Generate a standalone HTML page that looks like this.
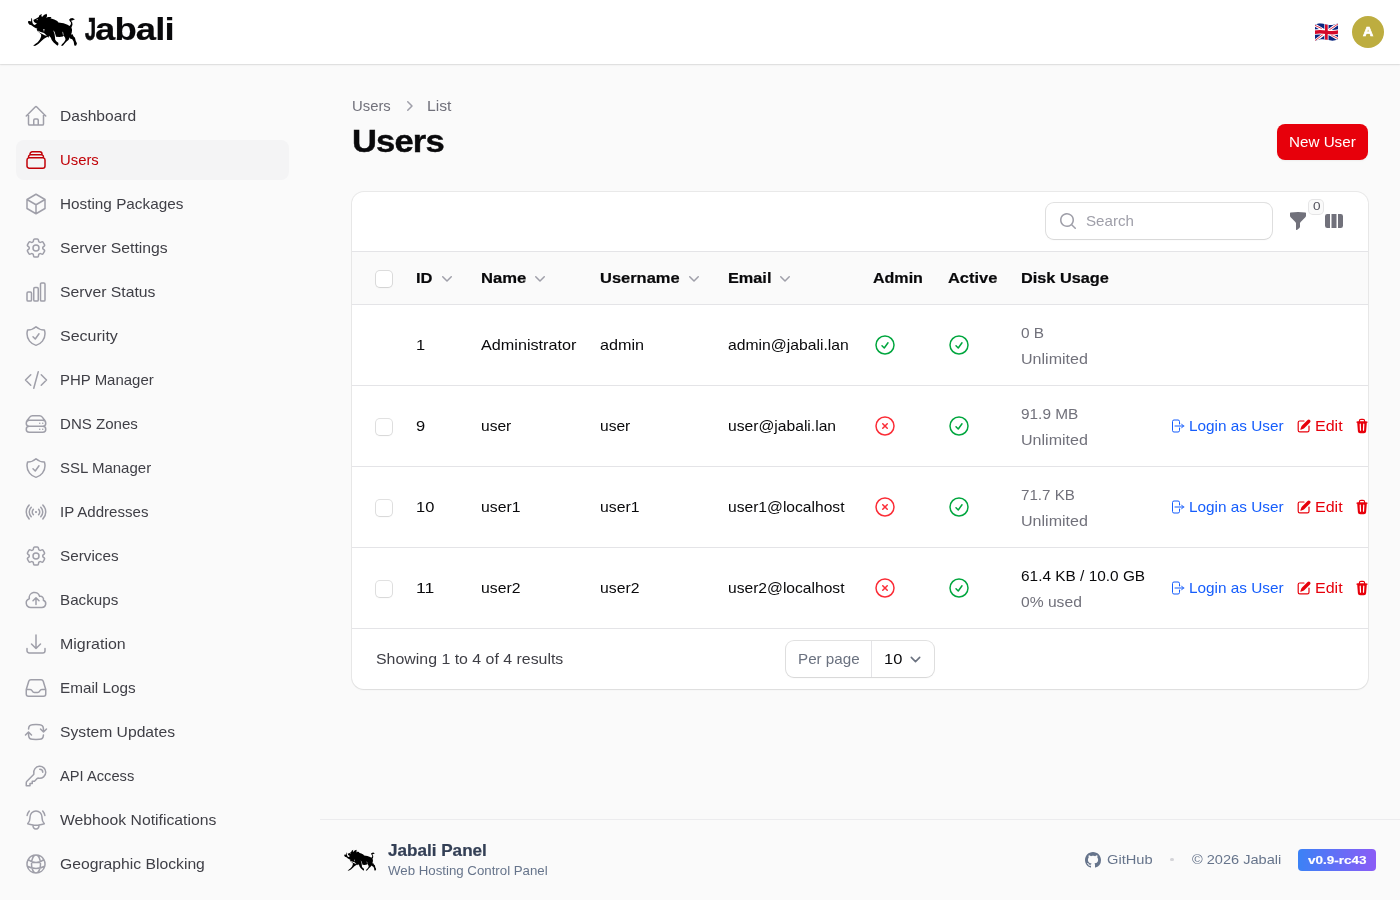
<!DOCTYPE html>
<html lang="en">
<head>
<meta charset="utf-8">
<title>Users - Jabali</title>
<style>
*{box-sizing:border-box;margin:0;padding:0}
html,body{width:1400px;height:900px;overflow:hidden}
body{background:#fafafa;color:#09090b;font-family:"Liberation Sans", sans-serif;font-size:14px;line-height:20px;position:relative}
svg{display:block}
.wrap{position:absolute;left:0;top:0;width:1400px;height:900px;will-change:transform}
.t{white-space:nowrap;display:inline-block;text-align:left}
.i{display:inline-block;white-space:nowrap;transform-origin:0 50%}
/* topbar */
.topbar{position:absolute;left:0;top:0;width:1400px;height:64px;background:#fff;box-shadow:0 0 0 1px rgba(9,9,11,.06),0 1px 2px 0 rgba(0,0,0,.08);z-index:5}
.logo{position:absolute;left:27px;top:13px;width:52px;height:34px}
.brand{white-space:nowrap;position:absolute;left:85px;top:10px;font-size:30px;line-height:40px;font-weight:700;color:#09090b;letter-spacing:-0.75px}
.flag{position:absolute;left:1314px;top:22px;width:25px;height:20px}
.avatar{position:absolute;left:1352px;top:16px;width:32px;height:32px;border-radius:50%;background:#bdad40;color:#fff;font-weight:700;font-size:12.5px;line-height:32px;text-align:center}
/* sidebar */
.nav{position:absolute;left:16px;top:96px;width:273px}
.ni{display:flex;align-items:center;height:40px;margin-bottom:4px;padding:8px;border-radius:8px;color:#3f3f46;font-weight:500}
.ni svg{width:24px;height:24px;margin-right:12px;color:#9f9fa9;flex:none}
.ni.act{background:#f4f4f5;color:#c10007}
.ni.act svg{color:#c10007}
.ni .t{font-weight:400}
/* main */
.bc{position:absolute;left:352px;top:96px;display:flex;align-items:center;color:#71717b;font-size:14px;line-height:20px}
.bc svg{width:20px;height:20px;color:#9f9fa9;margin:0 8px}
h1{position:absolute;left:352px;top:122px;font-size:30px;line-height:40px;font-weight:700;color:#09090b;letter-spacing:-0.75px}
.btn{position:absolute;left:1277px;top:124px;width:91px;height:36px;border-radius:8px;background:#e7000b;color:#fff;font-size:14px;line-height:36px;text-align:center;box-shadow:0 1px 2px rgba(0,0,0,.05)}
.card{position:absolute;left:352px;top:192px;width:1016px;height:497px;background:#fff;border-radius:12px;box-shadow:0 0 0 1px rgba(9,9,11,.07),0 1px 2px 0 rgba(0,0,0,.06);overflow:hidden}
.tb{position:absolute;left:0;top:0;width:100%;height:60px}
.search{position:absolute;left:694px;top:11px;width:226px;height:36px;border-radius:8px;background:#fff;box-shadow:0 0 0 1px rgba(9,9,11,.12),0 1px 2px rgba(0,0,0,.05)}
.search svg{position:absolute;left:12px;top:8px;width:20px;height:20px;color:#9f9fa9}
.search .t{position:absolute;left:40px;top:8px;color:#9f9fa9;font-size:14px}
.ic{position:absolute;width:20px;height:20px;color:#71717b}
.badge{position:absolute;left:956px;top:7px;width:16px;height:16px;border-radius:5px;background:#fafafa;box-shadow:inset 0 0 0 1px rgba(82,82,91,.12);font-size:11px;line-height:16px;text-align:center;color:#52525c;padding:0}
.hd{position:absolute;left:0;top:59px;width:100%;height:54px;background:#fafafa;border-top:1px solid #e4e4e7;border-bottom:1px solid #e4e4e7}
.hd .t{position:absolute;top:16px;font-weight:600;font-size:14px;line-height:20px;color:#09090b}
.hd svg{position:absolute;top:16px;width:20px;height:20px;color:#9f9fa9}
.cb{position:absolute;left:24px;width:16px;height:16px;border-radius:4px;background:#fff;box-shadow:0 0 0 1px rgba(9,9,11,.12),0 1px 2px rgba(0,0,0,.05)}
.row{position:absolute;left:0;width:100%;height:81px;border-bottom:1px solid #e4e4e7}
.row .t{position:absolute;top:30px;font-size:14px;line-height:20px;color:#09090b}
.row .d1{top:18px;color:#09090b}
.row .d2{top:44px;color:#71717b}
.row .g{color:#71717b}
.row .st{position:absolute;top:28px;width:24px;height:24px}
.ok{color:#00a63e}.no{color:#fb2c36}
.row .a{position:absolute;top:32px;width:16px;height:16px}
.row .lnk{color:#155dfc;font-weight:500}
.row .red{color:#e7000b}
.ft{position:absolute;left:0;top:437px;width:100%;height:60px}
.ft .t{position:absolute;left:24px;top:20px;color:#3f3f46;font-size:14px}
.pp{position:absolute;left:434px;top:12px;width:148px;height:36px;border-radius:8px;box-shadow:0 0 0 1px rgba(9,9,11,.12),0 1px 2px rgba(0,0,0,.05);background:#fff}
.pp .l{position:absolute;left:12px;top:8px;color:#6b7280}
.pp .sep{position:absolute;left:85px;top:0;width:1px;height:36px;background:#e4e4e7}
.pp .v{position:absolute;left:98px;top:8px;color:#09090b}
.pp svg{position:absolute;left:119px;top:8px;width:21px;height:21px;color:#6b7280}
/* footer */
.pf{position:absolute;left:320px;top:819px;width:1080px;height:81px;border-top:1px solid #ececee}
.pf .logo2{position:absolute;left:23px;top:28px;width:34px;height:23px}
.pf .t1{white-space:nowrap;position:absolute;left:68px;top:21px;font-weight:700;font-size:15px;line-height:20px;color:#333f55}
.pf .t2{position:absolute;left:68px;top:43px;font-size:12px;line-height:16px;color:#66748b}
.pf .gh{position:absolute;left:765px;top:32px;width:16px;height:16px;color:#66748b}
.pf .g1{position:absolute;left:787px;top:30px;font-size:13px;line-height:20px;color:#66748b}
.pf .dot{position:absolute;left:850.4px;top:37.7px;width:3.2px;height:3.2px;border-radius:50%;background:#d4d4d8}
.pf .g2{position:absolute;left:872px;top:30px;font-size:13px;line-height:20px;color:#66748b}
.pf .ver{position:absolute;left:978px;top:29px;width:78px;height:22px;border-radius:4px;background:linear-gradient(90deg,#3b82f6,#8b5cf6);color:#fff;font-weight:700;font-size:11px;line-height:22px;text-align:center}
</style>
</head>
<body>
<div class="wrap">
<div class="topbar"><svg style="position:absolute;left:20px;top:5px;width:80px;height:50px" viewBox="0 0 1400 875" preserveAspectRatio="none"><path fill="#000" d="M140,285 L168,280 L194,290 L197,232 L208,230 L214,272 L232,262 L285,238 L328,212 L340,180 L382,157 L372,198 L392,206 L418,176 L466,154 L474,186 L462,226 L488,210 L552,212 L532,234 L600,252 L652,280 L672,306 L762,320 L832,345 L868,366 L888,340 L893,312 L870,282 L860,256 L878,238 L915,226 L962,250 L926,266 L894,276 L914,308 L919,345 L900,392 L911,432 L906,482 L892,520 L916,508 L936,546 L962,572 L976,630 L997,670 L986,706 L960,716 L947,690 L940,642 L914,600 L876,586 L868,566 L858,594 L848,612 L810,642 L775,682 L750,711 L718,713 L735,685 L770,650 L796,610 L790,575 L762,532 L750,550 L690,560 L630,556 L622,522 L604,505 L612,560 L616,610 L640,640 L670,660 L673,690 L656,713 L630,690 L585,650 L555,612 L540,572 L508,536 L500,572 L480,556 L420,592 L380,626 L320,682 L270,711 L230,716 L260,686 L310,650 L350,600 L370,550 L370,516 L345,492 L300,452 L286,412 L264,400 L240,386 L200,356 L160,342 L142,312 Z"/><path fill="#fff" d="M212,262 C212,312 230,346 258,351 L297,322 C266,318 242,300 234,262 Z M302,440 L350,468 L420,490 L472,540 L440,532 L380,502 L338,482 Z M284,408 L296,452 L300,408 Z M408,420 L420,476 L428,420 Z M582,442 L600,500 L622,522 L604,470 Z M742,462 L750,520 L762,532 L756,480 Z M290,255 L310,248 L312,262 L294,268 Z"/></svg><div class="brand"><span class="t" style="font-size:30.60px;width:10.42px"><span class="i" style="transform:scaleX(0.6514) translateY(-1.5px);-webkit-text-stroke:0.75px currentColor">J</span></span><span class="t" style="font-size:30.60px;width:78.78px"><span class="i" style="transform:scaleX(1.1937) translateY(-1.5px);-webkit-text-stroke:0.15px currentColor">abali</span></span></div><svg style="position:absolute;left:1306px;top:16px;width:40px;height:32px" viewBox="0 0 1125 900" preserveAspectRatio="none">
<defs><clipPath id="fc"><path d="M250,250 C320,205 420,190 520,225 C620,260 760,275 900,205 L905,650 C800,710 700,700 600,670 C480,640 360,650 255,700 Z"/></clipPath></defs>
<g clip-path="url(#fc)">
<rect x="240" y="180" width="680" height="540" fill="#0a2580"/>
<path d="M250,250 L905,650 M905,205 L255,700" stroke="#fff" stroke-width="82"/>
<path d="M250,262 L440,352 M660,385 L900,225 M255,690 L480,520 M710,540 L905,635" stroke="#d8112f" stroke-width="24"/>
<path d="M575,180 L575,720" stroke="#fff" stroke-width="118"/>
<path d="M240,455 C400,425 520,450 600,460 C720,475 820,470 920,445" stroke="#fff" stroke-width="150" fill="none"/>
<path d="M573,180 L573,720" stroke="#d4082a" stroke-width="76"/>
<path d="M240,455 C400,425 520,450 600,460 C720,475 820,470 920,445" stroke="#d4082a" stroke-width="98" fill="none"/>
</g></svg><div class="avatar"><span class="t" style="font-size:13.12px;width:9.69px"><span class="i" style="transform:scaleX(1.0764);-webkit-text-stroke:0.70px currentColor">A</span></span></div></div>
<div class="nav"><div class="ni"><svg class="" style="" viewBox="0 0 24 24" fill="none" stroke="currentColor" stroke-width="1.5" stroke-linecap="round" stroke-linejoin="round"><path d="m2.25 12 8.954-8.955c.44-.439 1.152-.439 1.591 0L21.75 12M4.5 9.75v10.125c0 .621.504 1.125 1.125 1.125H9.75v-4.875c0-.621.504-1.125 1.125-1.125h2.25c.621 0 1.125.504 1.125 1.125V21h4.125c.621 0 1.125-.504 1.125-1.125V9.75M8.25 21h8.25"/></svg><span class="t" style="font-size:14.77px;width:75.97px"><span class="i" style="transform:scaleX(1.0551)">Dashboard</span></span></div><div class="ni act"><svg class="" style="" viewBox="0 0 24 24" fill="none" stroke="currentColor" stroke-width="1.5" stroke-linecap="round" stroke-linejoin="round"><path d="M6 6.878V6a2.25 2.25 0 0 1 2.25-2.25h7.5A2.25 2.25 0 0 1 18 6v.878m-12 0c.235-.083.487-.128.75-.128h10.5c.263 0 .515.045.75.128m-12 0A2.25 2.25 0 0 0 4.5 9v.878m13.5-3A2.25 2.25 0 0 1 19.5 9v.878m0 0a2.246 2.246 0 0 0-.75-.128H5.25c-.263 0-.515.045-.75.128m15 0A2.25 2.25 0 0 1 21 12v6a2.25 2.25 0 0 1-2.25 2.25H5.25A2.25 2.25 0 0 1 3 18v-6c0-.98.626-1.813 1.5-2.122"/></svg><span class="t" style="font-size:14.77px;width:39.22px"><span class="i" style="transform:scaleX(1.0056)">Users</span></span></div><div class="ni"><svg class="" style="" viewBox="0 0 24 24" fill="none" stroke="currentColor" stroke-width="1.5" stroke-linecap="round" stroke-linejoin="round"><path d="m21 7.5-9-5.25L3 7.5m18 0-9 5.25m9-5.25v9l-9 5.25M3 7.5l9 5.25M3 7.5v9l9 5.25m0-9v9"/></svg><span class="t" style="font-size:14.77px;width:123.31px"><span class="i" style="transform:scaleX(1.0362)">Hosting Packages</span></span></div><div class="ni"><svg class="" style="" viewBox="0 0 24 24" fill="none" stroke="currentColor" stroke-width="1.5" stroke-linecap="round" stroke-linejoin="round"><path d="M9.594 3.94c.09-.542.56-.94 1.11-.94h2.593c.55 0 1.02.398 1.11.94l.213 1.281c.063.374.313.686.645.87.074.04.147.083.22.127.325.196.72.257 1.075.124l1.217-.456a1.125 1.125 0 0 1 1.37.49l1.296 2.247a1.125 1.125 0 0 1-.26 1.431l-1.003.827c-.293.241-.438.613-.43.992a7.723 7.723 0 0 1 0 .255c-.008.378.137.75.43.991l1.004.827c.424.35.534.955.26 1.43l-1.298 2.247a1.125 1.125 0 0 1-1.369.491l-1.217-.456c-.355-.133-.75-.072-1.076.124a6.47 6.47 0 0 1-.22.128c-.331.183-.581.495-.644.869l-.213 1.281c-.09.543-.56.94-1.11.94h-2.594c-.55 0-1.019-.398-1.11-.94l-.213-1.281c-.062-.374-.312-.686-.644-.87a6.52 6.52 0 0 1-.22-.127c-.325-.196-.72-.257-1.076-.124l-1.217.456a1.125 1.125 0 0 1-1.369-.49l-1.297-2.247a1.125 1.125 0 0 1 .26-1.431l1.004-.827c.292-.24.437-.613.43-.991a6.932 6.932 0 0 1 0-.255c.007-.38-.138-.751-.43-.992l-1.004-.827a1.125 1.125 0 0 1-.26-1.43l1.297-2.247a1.125 1.125 0 0 1 1.37-.491l1.216.456c.356.133.751.072 1.076-.124.072-.044.146-.086.22-.128.332-.183.582-.495.644-.869l.214-1.28ZM15 12a3 3 0 1 1-6 0 3 3 0 0 1 6 0Z"/></svg><span class="t" style="font-size:14.77px;width:107.80px"><span class="i" style="transform:scaleX(1.0673)">Server Settings</span></span></div><div class="ni"><svg class="" style="" viewBox="0 0 24 24" fill="none" stroke="currentColor" stroke-width="1.5" stroke-linecap="round" stroke-linejoin="round"><path d="M3 13.125C3 12.504 3.504 12 4.125 12h2.25c.621 0 1.125.504 1.125 1.125v6.75C7.5 20.496 6.996 21 6.375 21h-2.25A1.125 1.125 0 0 1 3 19.875v-6.75ZM9.75 8.625c0-.621.504-1.125 1.125-1.125h2.25c.621 0 1.125.504 1.125 1.125v11.25c0 .621-.504 1.125-1.125 1.125h-2.25a1.125 1.125 0 0 1-1.125-1.125V8.625ZM16.5 4.125c0-.621.504-1.125 1.125-1.125h2.25C20.496 3 21 3.504 21 4.125v15.75c0 .621-.504 1.125-1.125 1.125h-2.25a1.125 1.125 0 0 1-1.125-1.125V4.125Z"/></svg><span class="t" style="font-size:14.77px;width:94.98px"><span class="i" style="transform:scaleX(1.0672)">Server Status</span></span></div><div class="ni"><svg class="" style="" viewBox="0 0 24 24" fill="none" stroke="currentColor" stroke-width="1.5" stroke-linecap="round" stroke-linejoin="round"><path d="M9 12.75 11.25 15 15 9.75m-3-7.036A11.959 11.959 0 0 1 3.598 6 11.99 11.99 0 0 0 3 9.749c0 5.592 3.824 10.29 9 11.623 5.176-1.332 9-6.03 9-11.622 0-1.31-.21-2.571-.598-3.751h-.152c-3.196 0-6.1-1.248-8.25-3.285Z"/></svg><span class="t" style="font-size:14.77px;width:57.50px"><span class="i" style="transform:scaleX(1.0849)">Security</span></span></div><div class="ni"><svg class="" style="" viewBox="0 0 24 24" fill="none" stroke="currentColor" stroke-width="1.5" stroke-linecap="round" stroke-linejoin="round"><path d="M17.25 6.75 22.5 12l-5.25 5.25m-10.5 0L1.5 12l5.25-5.25m7.5-3-4.5 16.5"/></svg><span class="t" style="font-size:14.77px;width:93.23px"><span class="i" style="transform:scaleX(1.0134)">PHP Manager</span></span></div><div class="ni"><svg class="" style="" viewBox="0 0 24 24" fill="none" stroke="currentColor" stroke-width="1.5" stroke-linecap="round" stroke-linejoin="round"><path d="M5.25 14.25h13.5m-13.5 0a3 3 0 0 1-3-3m3 3a3 3 0 1 0 0 6h13.5a3 3 0 1 0 0-6m-16.5-3a3 3 0 0 1 3-3h13.5a3 3 0 0 1 3 3m-19.5 0a4.5 4.5 0 0 1 .9-2.7L5.737 5.1a3.375 3.375 0 0 1 2.7-1.35h7.126c1.062 0 2.062.5 2.7 1.35l2.587 3.45a4.5 4.5 0 0 1 .9 2.7m0 0a3 3 0 0 1-3 3m0 3h.008v.008h-.008v-.008Zm0-6h.008v.008h-.008v-.008Zm-3 6h.008v.008h-.008v-.008Zm0-6h.008v.008h-.008v-.008Z"/></svg><span class="t" style="font-size:14.77px;width:77.53px"><span class="i" style="transform:scaleX(1.0201)">DNS Zones</span></span></div><div class="ni"><svg class="" style="" viewBox="0 0 24 24" fill="none" stroke="currentColor" stroke-width="1.5" stroke-linecap="round" stroke-linejoin="round"><path d="M9 12.75 11.25 15 15 9.75m-3-7.036A11.959 11.959 0 0 1 3.598 6 11.99 11.99 0 0 0 3 9.749c0 5.592 3.824 10.29 9 11.623 5.176-1.332 9-6.03 9-11.622 0-1.31-.21-2.571-.598-3.751h-.152c-3.196 0-6.1-1.248-8.25-3.285Z"/></svg><span class="t" style="font-size:14.77px;width:91.39px"><span class="i" style="transform:scaleX(1.0155)">SSL Manager</span></span></div><div class="ni"><svg class="" style="" viewBox="0 0 24 24" fill="none" stroke="currentColor" stroke-width="1.5" stroke-linecap="round" stroke-linejoin="round"><path d="M9.348 14.652a3.75 3.75 0 0 1 0-5.304m5.304 0a3.75 3.75 0 0 1 0 5.304m-7.425 2.121a6.75 6.75 0 0 1 0-9.546m9.546 0a6.75 6.75 0 0 1 0 9.546M5.106 18.894c-3.808-3.807-3.808-9.98 0-13.788m13.788 0c3.808 3.807 3.808 9.98 0 13.788M12 12h.008v.008H12V12Zm.375 0a.375.375 0 1 1-.75 0 .375.375 0 0 1 .75 0Z"/></svg><span class="t" style="font-size:14.77px;width:88.69px"><span class="i" style="transform:scaleX(1.0194)">IP Addresses</span></span></div><div class="ni"><svg class="" style="" viewBox="0 0 24 24" fill="none" stroke="currentColor" stroke-width="1.5" stroke-linecap="round" stroke-linejoin="round"><path d="M9.594 3.94c.09-.542.56-.94 1.11-.94h2.593c.55 0 1.02.398 1.11.94l.213 1.281c.063.374.313.686.645.87.074.04.147.083.22.127.325.196.72.257 1.075.124l1.217-.456a1.125 1.125 0 0 1 1.37.49l1.296 2.247a1.125 1.125 0 0 1-.26 1.431l-1.003.827c-.293.241-.438.613-.43.992a7.723 7.723 0 0 1 0 .255c-.008.378.137.75.43.991l1.004.827c.424.35.534.955.26 1.43l-1.298 2.247a1.125 1.125 0 0 1-1.369.491l-1.217-.456c-.355-.133-.75-.072-1.076.124a6.47 6.47 0 0 1-.22.128c-.331.183-.581.495-.644.869l-.213 1.281c-.09.543-.56.94-1.11.94h-2.594c-.55 0-1.019-.398-1.11-.94l-.213-1.281c-.062-.374-.312-.686-.644-.87a6.52 6.52 0 0 1-.22-.127c-.325-.196-.72-.257-1.076-.124l-1.217.456a1.125 1.125 0 0 1-1.369-.49l-1.297-2.247a1.125 1.125 0 0 1 .26-1.431l1.004-.827c.292-.24.437-.613.43-.991a6.932 6.932 0 0 1 0-.255c.007-.38-.138-.751-.43-.992l-1.004-.827a1.125 1.125 0 0 1-.26-1.43l1.297-2.247a1.125 1.125 0 0 1 1.37-.491l1.216.456c.356.133.751.072 1.076-.124.072-.044.146-.086.22-.128.332-.183.582-.495.644-.869l.214-1.28ZM15 12a3 3 0 1 1-6 0 3 3 0 0 1 6 0Z"/></svg><span class="t" style="font-size:14.77px;width:59.05px"><span class="i" style="transform:scaleX(1.0359)">Services</span></span></div><div class="ni"><svg class="" style="" viewBox="0 0 24 24" fill="none" stroke="currentColor" stroke-width="1.5" stroke-linecap="round" stroke-linejoin="round"><path d="M12 16.5V9.75m0 0 3 3m-3-3-3 3M6.75 19.5a4.5 4.5 0 0 1-1.41-8.775 5.25 5.25 0 0 1 10.233-2.33 3 3 0 0 1 3.758 3.848A3.752 3.752 0 0 1 18 19.5H6.75Z"/></svg><span class="t" style="font-size:14.77px;width:58.62px"><span class="i" style="transform:scaleX(1.0285)">Backups</span></span></div><div class="ni"><svg class="" style="" viewBox="0 0 24 24" fill="none" stroke="currentColor" stroke-width="1.5" stroke-linecap="round" stroke-linejoin="round"><path d="M3 16.5v2.25A2.25 2.25 0 0 0 5.25 21h13.5A2.25 2.25 0 0 0 21 18.75V16.5M16.5 12 12 16.5m0 0L7.5 12m4.5 4.5V3"/></svg><span class="t" style="font-size:14.77px;width:66.02px"><span class="i" style="transform:scaleX(1.0822)">Migration</span></span></div><div class="ni"><svg class="" style="" viewBox="0 0 24 24" fill="none" stroke="currentColor" stroke-width="1.5" stroke-linecap="round" stroke-linejoin="round"><path d="M2.25 13.5h3.86a2.25 2.25 0 0 1 2.012 1.244l.256.512a2.25 2.25 0 0 0 2.013 1.244h3.218a2.25 2.25 0 0 0 2.013-1.244l.256-.512a2.25 2.25 0 0 1 2.013-1.244h3.859m-19.5.338V18a2.25 2.25 0 0 0 2.25 2.25h15A2.25 2.25 0 0 0 21.75 18v-4.162c0-.224-.034-.447-.1-.661L19.24 5.338a2.25 2.25 0 0 0-2.15-1.588H6.911a2.25 2.25 0 0 0-2.15 1.588L2.35 13.177a2.25 2.25 0 0 0-.1.661Z"/></svg><span class="t" style="font-size:14.77px;width:75.59px"><span class="i" style="transform:scaleX(1.0355)">Email Logs</span></span></div><div class="ni"><svg class="" style="" viewBox="0 0 24 24" fill="none" stroke="currentColor" stroke-width="1.5" stroke-linecap="round" stroke-linejoin="round"><path d="M19.5 12c0-1.232-.046-2.453-.138-3.662a4.006 4.006 0 0 0-3.7-3.7 48.678 48.678 0 0 0-7.324 0 4.006 4.006 0 0 0-3.7 3.7c-.017.22-.032.441-.046.662M19.5 12l3-3m-3 3-3-3m-12 3c0 1.232.046 2.453.138 3.662a4.006 4.006 0 0 0 3.7 3.7 48.656 48.656 0 0 0 7.324 0 4.006 4.006 0 0 0 3.7-3.7c.017-.22.032-.441.046-.662M4.5 12l3 3m-3-3-3 3"/></svg><span class="t" style="font-size:14.77px;width:114.66px"><span class="i" style="transform:scaleX(1.0616)">System Updates</span></span></div><div class="ni"><svg class="" style="" viewBox="0 0 24 24" fill="none" stroke="currentColor" stroke-width="1.5" stroke-linecap="round" stroke-linejoin="round"><path d="M15.75 5.25a3 3 0 0 1 3 3m3 0a6 6 0 0 1-7.029 5.912c-.563-.097-1.159.026-1.563.43L10.5 17.25H8.25v2.25H6v2.25H2.25v-2.818c0-.597.237-1.17.659-1.591l6.499-6.499c.404-.404.527-1 .43-1.563A6 6 0 1 1 21.75 8.25Z"/></svg><span class="t" style="font-size:14.77px;width:74.53px"><span class="i" style="transform:scaleX(0.9938)">API Access</span></span></div><div class="ni"><svg class="" style="" viewBox="0 0 24 24" fill="none" stroke="currentColor" stroke-width="1.5" stroke-linecap="round" stroke-linejoin="round"><path d="M14.857 17.082a23.848 23.848 0 0 0 5.454-1.31A8.967 8.967 0 0 1 18 9.75V9A6 6 0 0 0 6 9v.75a8.967 8.967 0 0 1-2.312 6.022c1.733.64 3.56 1.085 5.455 1.31m5.714 0a24.255 24.255 0 0 1-5.714 0m5.714 0a3 3 0 1 1-5.714 0M3.124 7.5A8.969 8.969 0 0 1 5.292 3m13.416 0a8.969 8.969 0 0 1 2.168 4.5"/></svg><span class="t" style="font-size:14.77px;width:156.72px"><span class="i" style="transform:scaleX(1.0661)">Webhook Notifications</span></span></div><div class="ni"><svg class="" style="" viewBox="0 0 24 24" fill="none" stroke="currentColor" stroke-width="1.5" stroke-linecap="round" stroke-linejoin="round"><path d="M12 21a9.004 9.004 0 0 0 8.716-6.747M12 21a9.004 9.004 0 0 1-8.716-6.747M12 21c2.485 0 4.5-4.03 4.5-9S14.485 3 12 3m0 18c-2.485 0-4.5-4.03-4.5-9S9.515 3 12 3m0 0a8.997 8.997 0 0 1 7.843 4.582M12 3a8.997 8.997 0 0 0-7.843 4.582m15.686 0A11.953 11.953 0 0 1 12 10.5c-2.998 0-5.74-1.1-7.843-2.918m15.686 0A8.959 8.959 0 0 1 21 12c0 .778-.099 1.533-.284 2.253m0 0A17.919 17.919 0 0 1 12 16.5c-3.162 0-6.133-.815-8.716-2.247m0 0A9.015 9.015 0 0 1 3 12c0-1.605.42-3.113 1.157-4.418"/></svg><span class="t" style="font-size:14.77px;width:144.56px"><span class="i" style="transform:scaleX(1.0630)">Geographic Blocking</span></span></div></div>
<div class="bc"><span class="t" style="font-size:14.77px;width:39.22px"><span class="i" style="transform:scaleX(1.0056)">Users</span></span><svg class="" style="" viewBox="0 0 20 20" fill="currentColor"><path fill-rule="evenodd" clip-rule="evenodd" d="M8.22 5.22a.75.75 0 0 1 1.06 0l4.25 4.25a.75.75 0 0 1 0 1.06l-4.25 4.25a.75.75 0 0 1-1.06-1.06L11.94 10 8.22 6.28a.75.75 0 0 1 0-1.06Z"/></svg><span class="t" style="font-size:14.77px;width:24.48px"><span class="i" style="transform:scaleX(1.0645)">List</span></span></div><h1><span class="t" style="font-size:30.60px;width:91.47px"><span class="i" style="transform:scaleX(1.1292) translateY(-1.5px);-webkit-text-stroke:0.42px currentColor">Users</span></span></h1><div class="btn"><span class="t" style="font-size:14.77px;width:66.91px"><span class="i" style="transform:scaleX(1.0293)">New User</span></span></div><div class="card"><div class="tb"><div class="search"><svg class="" style="" viewBox="0 0 20 20" fill="currentColor"><path fill-rule="evenodd" clip-rule="evenodd" d="M9 3.5a5.5 5.5 0 1 0 0 11 5.5 5.5 0 0 0 0-11ZM2 9a7 7 0 1 1 12.452 4.391l3.328 3.329a.75.75 0 1 1-1.06 1.06l-3.329-3.328A7 7 0 0 1 2 9Z"/></svg><span class="t" style="font-size:14.77px;width:48.11px"><span class="i" style="transform:scaleX(1.0236)">Search</span></span></div><svg class="ic" style="left:936px;top:19px" viewBox="0 0 20 20" fill="currentColor"><path fill-rule="evenodd" clip-rule="evenodd" d="M2.628 1.601C5.028 1.206 7.49 1 10 1s4.973.206 7.372.601a.75.75 0 0 1 .628.74v2.288a2.25 2.25 0 0 1-.659 1.59l-4.682 4.683a2.25 2.25 0 0 0-.659 1.59v3.037c0 .684-.31 1.33-.844 1.757l-1.937 1.55A.75.75 0 0 1 8 18.25v-5.757a2.25 2.25 0 0 0-.659-1.591L2.659 6.22A2.25 2.25 0 0 1 2 4.629V2.34a.75.75 0 0 1 .628-.74Z"/></svg><div class="badge"><span class="t" style="font-size:11.60px;width:7.00px"><span class="i" style="transform:scaleX(1.1667) translateY(-1px)">0</span></span></div><svg class="ic" style="left:972px;top:19px" viewBox="0 0 20 20" fill="currentColor"><path fill-rule="evenodd" clip-rule="evenodd" d="M14 17h2.75A2.25 2.25 0 0 0 19 14.75v-9.5A2.25 2.25 0 0 0 16.75 3H14v14ZM12.5 3h-5v14h5V3ZM3.25 3H6v14H3.25A2.25 2.25 0 0 1 1 14.75v-9.5A2.25 2.25 0 0 1 3.25 3Z"/></svg></div><div class="hd"><div class="cb" style="top:19px"></div><span class="t" style="left:64px;font-size:14.70px;width:16.84px"><span class="i" style="transform:scaleX(1.1229);-webkit-text-stroke:0.20px currentColor">ID</span></span><svg class="" style="left:85px" viewBox="0 0 20 20" fill="currentColor"><path fill-rule="evenodd" clip-rule="evenodd" d="M5.22 8.22a.75.75 0 0 1 1.06 0L10 11.94l3.72-3.72a.75.75 0 1 1 1.06 1.06l-4.25 4.25a.75.75 0 0 1-1.06 0L5.22 9.28a.75.75 0 0 1 0-1.06Z"/></svg><span class="t" style="left:129px;font-size:14.70px;width:45.25px"><span class="i" style="transform:scaleX(1.1313);-webkit-text-stroke:0.20px currentColor">Name</span></span><svg class="" style="left:178px" viewBox="0 0 20 20" fill="currentColor"><path fill-rule="evenodd" clip-rule="evenodd" d="M5.22 8.22a.75.75 0 0 1 1.06 0L10 11.94l3.72-3.72a.75.75 0 1 1 1.06 1.06l-4.25 4.25a.75.75 0 0 1-1.06 0L5.22 9.28a.75.75 0 0 1 0-1.06Z"/></svg><span class="t" style="left:248px;font-size:14.70px;width:79.61px"><span class="i" style="transform:scaleX(1.1213);-webkit-text-stroke:0.20px currentColor">Username</span></span><svg class="" style="left:332px" viewBox="0 0 20 20" fill="currentColor"><path fill-rule="evenodd" clip-rule="evenodd" d="M5.22 8.22a.75.75 0 0 1 1.06 0L10 11.94l3.72-3.72a.75.75 0 1 1 1.06 1.06l-4.25 4.25a.75.75 0 0 1-1.06 0L5.22 9.28a.75.75 0 0 1 0-1.06Z"/></svg><span class="t" style="left:376px;font-size:14.70px;width:43.20px"><span class="i" style="transform:scaleX(1.1078);-webkit-text-stroke:0.20px currentColor">Email</span></span><svg class="" style="left:423px" viewBox="0 0 20 20" fill="currentColor"><path fill-rule="evenodd" clip-rule="evenodd" d="M5.22 8.22a.75.75 0 0 1 1.06 0L10 11.94l3.72-3.72a.75.75 0 1 1 1.06 1.06l-4.25 4.25a.75.75 0 0 1-1.06 0L5.22 9.28a.75.75 0 0 1 0-1.06Z"/></svg><span class="t" style="left:521px;font-size:14.70px;width:50.22px"><span class="i" style="transform:scaleX(1.0917);-webkit-text-stroke:0.20px currentColor">Admin</span></span><span class="t" style="left:596px;font-size:14.70px;width:49.25px"><span class="i" style="transform:scaleX(1.1193);-webkit-text-stroke:0.20px currentColor">Active</span></span><span class="t" style="left:669px;font-size:14.70px;width:87.61px"><span class="i" style="transform:scaleX(1.1090);-webkit-text-stroke:0.20px currentColor">Disk Usage</span></span></div><div class="row" style="top:113px"><span class="t" style="left:64px;font-size:14.77px;width:8.92px"><span class="i" style="transform:scaleX(1.1152)">1</span></span><span class="t" style="left:129px;font-size:14.77px;width:95.44px"><span class="i" style="transform:scaleX(1.0970)">Administrator</span></span><span class="t" style="left:248px;font-size:14.77px;width:43.88px"><span class="i" style="transform:scaleX(1.0969)">admin</span></span><span class="t" style="left:376px;font-size:14.77px;width:121.38px"><span class="i" style="transform:scaleX(1.0647)">admin@jabali.lan</span></span><svg class="st ok" style="left:521px" viewBox="0 0 24 24" fill="none" stroke="currentColor" stroke-width="1.5" stroke-linecap="round" stroke-linejoin="round"><path d="M9 12.75 11.25 15 15 9.75M21 12a9 9 0 1 1-18 0 9 9 0 0 1 18 0Z"/></svg><svg class="st ok" style="left:595px" viewBox="0 0 24 24" fill="none" stroke="currentColor" stroke-width="1.5" stroke-linecap="round" stroke-linejoin="round"><path d="M9 12.75 11.25 15 15 9.75M21 12a9 9 0 1 1-18 0 9 9 0 0 1 18 0Z"/></svg><span class="t d1 g" style="left:669px;font-size:14.77px;width:22.97px"><span class="i" style="transform:scaleX(1.0440)">0 B</span></span><span class="t d2" style="left:669px;font-size:14.77px;width:67.42px"><span class="i" style="transform:scaleX(1.0874)">Unlimited</span></span></div><div class="row" style="top:194px"><div class="cb" style="top:33px"></div><span class="t" style="left:64px;font-size:14.77px;width:8.92px"><span class="i" style="transform:scaleX(1.1152)">9</span></span><span class="t" style="left:129px;font-size:14.77px;width:30.55px"><span class="i" style="transform:scaleX(1.0533)">user</span></span><span class="t" style="left:248px;font-size:14.77px;width:30.55px"><span class="i" style="transform:scaleX(1.0533)">user</span></span><span class="t" style="left:376px;font-size:14.77px;width:108.05px"><span class="i" style="transform:scaleX(1.0593)">user@jabali.lan</span></span><svg class="st no" style="left:521px" viewBox="0 0 24 24" fill="none" stroke="currentColor" stroke-width="1.5" stroke-linecap="round" stroke-linejoin="round"><path d="m9.75 9.75 4.5 4.5m0-4.5-4.5 4.5M21 12a9 9 0 1 1-18 0 9 9 0 0 1 18 0Z"/></svg><svg class="st ok" style="left:595px" viewBox="0 0 24 24" fill="none" stroke="currentColor" stroke-width="1.5" stroke-linecap="round" stroke-linejoin="round"><path d="M9 12.75 11.25 15 15 9.75M21 12a9 9 0 1 1-18 0 9 9 0 0 1 18 0Z"/></svg><span class="t d1 g" style="left:669px;font-size:14.77px;width:57.31px"><span class="i" style="transform:scaleX(1.0420)">91.9 MB</span></span><span class="t d2" style="left:669px;font-size:14.77px;width:67.42px"><span class="i" style="transform:scaleX(1.0874)">Unlimited</span></span><svg class="a lnk" style="left:817px" viewBox="0 0 24 24" fill="none" stroke="currentColor" stroke-width="1.5" stroke-linecap="round" stroke-linejoin="round"><path d="M15.75 9V5.25A2.25 2.25 0 0 0 13.5 3h-6a2.25 2.25 0 0 0-2.25 2.25v13.5A2.25 2.25 0 0 0 7.5 21h6a2.25 2.25 0 0 0 2.25-2.25V15m3 0 3-3m0 0-3-3m3 3H9"/></svg><span class="t lnk" style="left:837px;font-size:14.77px;width:94.45px"><span class="i" style="transform:scaleX(1.0379)">Login as User</span></span><svg class="a red" style="left:943.7px" viewBox="0 0 20 20" fill="currentColor"><path fill-rule="evenodd" clip-rule="evenodd" d="m5.433 13.917 1.262-3.155A4 4 0 0 1 7.58 9.42l6.92-6.918a2.121 2.121 0 0 1 3 3l-6.92 6.918c-.383.383-.84.685-1.343.886l-3.154 1.262a.5.5 0 0 1-.65-.65ZM3.5 5.75c0-.69.56-1.25 1.25-1.25H10A.75.75 0 0 0 10 3H4.75A2.75 2.75 0 0 0 2 5.75v9.5A2.75 2.75 0 0 0 4.75 18h9.5A2.75 2.75 0 0 0 17 15.25V10a.75.75 0 0 0-1.5 0v5.25c0 .69-.56 1.25-1.25 1.25h-9.5c-.69 0-1.25-.56-1.25-1.25v-9.5Z"/></svg><span class="t red" style="left:963px;font-size:14.77px;width:27.12px"><span class="i" style="transform:scaleX(1.0850)">Edit</span></span><svg class="a red" style="left:1002px" viewBox="0 0 20 20" fill="currentColor"><path fill-rule="evenodd" clip-rule="evenodd" d="M8.75 1A2.75 2.75 0 0 0 6 3.75v.443c-.795.077-1.584.176-2.365.298a.75.75 0 1 0 .23 1.482l.149-.022.841 10.518A2.75 2.75 0 0 0 7.596 19h4.807a2.75 2.75 0 0 0 2.742-2.53l.841-10.52.149.023a.75.75 0 0 0 .23-1.482A41.03 41.03 0 0 0 14 4.193V3.75A2.75 2.75 0 0 0 11.25 1h-2.5ZM10 4c.84 0 1.673.025 2.5.075V3.75c0-.69-.56-1.25-1.25-1.25h-2.5c-.69 0-1.25.56-1.25 1.25v.325C8.327 4.025 9.16 4 10 4ZM8.58 7.72a.75.75 0 0 0-1.5.06l.3 7.5a.75.75 0 1 0 1.5-.06l-.3-7.5Zm4.34.06a.75.75 0 1 0-1.5-.06l-.3 7.5a.75.75 0 1 0 1.5.06l.3-7.5Z"/></svg></div><div class="row" style="top:275px"><div class="cb" style="top:33px"></div><span class="t" style="left:64px;font-size:14.77px;width:17.83px"><span class="i" style="transform:scaleX(1.1143)">10</span></span><span class="t" style="left:129px;font-size:14.77px;width:39.45px"><span class="i" style="transform:scaleX(1.0663)">user1</span></span><span class="t" style="left:248px;font-size:14.77px;width:39.45px"><span class="i" style="transform:scaleX(1.0663)">user1</span></span><span class="t" style="left:376px;font-size:14.77px;width:116.30px"><span class="i" style="transform:scaleX(1.0572)">user1@localhost</span></span><svg class="st no" style="left:521px" viewBox="0 0 24 24" fill="none" stroke="currentColor" stroke-width="1.5" stroke-linecap="round" stroke-linejoin="round"><path d="m9.75 9.75 4.5 4.5m0-4.5-4.5 4.5M21 12a9 9 0 1 1-18 0 9 9 0 0 1 18 0Z"/></svg><svg class="st ok" style="left:595px" viewBox="0 0 24 24" fill="none" stroke="currentColor" stroke-width="1.5" stroke-linecap="round" stroke-linejoin="round"><path d="M9 12.75 11.25 15 15 9.75M21 12a9 9 0 1 1-18 0 9 9 0 0 1 18 0Z"/></svg><span class="t d1 g" style="left:669px;font-size:14.77px;width:54.42px"><span class="i" style="transform:scaleX(1.0268)">71.7 KB</span></span><span class="t d2" style="left:669px;font-size:14.77px;width:67.42px"><span class="i" style="transform:scaleX(1.0874)">Unlimited</span></span><svg class="a lnk" style="left:817px" viewBox="0 0 24 24" fill="none" stroke="currentColor" stroke-width="1.5" stroke-linecap="round" stroke-linejoin="round"><path d="M15.75 9V5.25A2.25 2.25 0 0 0 13.5 3h-6a2.25 2.25 0 0 0-2.25 2.25v13.5A2.25 2.25 0 0 0 7.5 21h6a2.25 2.25 0 0 0 2.25-2.25V15m3 0 3-3m0 0-3-3m3 3H9"/></svg><span class="t lnk" style="left:837px;font-size:14.77px;width:94.45px"><span class="i" style="transform:scaleX(1.0379)">Login as User</span></span><svg class="a red" style="left:943.7px" viewBox="0 0 20 20" fill="currentColor"><path fill-rule="evenodd" clip-rule="evenodd" d="m5.433 13.917 1.262-3.155A4 4 0 0 1 7.58 9.42l6.92-6.918a2.121 2.121 0 0 1 3 3l-6.92 6.918c-.383.383-.84.685-1.343.886l-3.154 1.262a.5.5 0 0 1-.65-.65ZM3.5 5.75c0-.69.56-1.25 1.25-1.25H10A.75.75 0 0 0 10 3H4.75A2.75 2.75 0 0 0 2 5.75v9.5A2.75 2.75 0 0 0 4.75 18h9.5A2.75 2.75 0 0 0 17 15.25V10a.75.75 0 0 0-1.5 0v5.25c0 .69-.56 1.25-1.25 1.25h-9.5c-.69 0-1.25-.56-1.25-1.25v-9.5Z"/></svg><span class="t red" style="left:963px;font-size:14.77px;width:27.12px"><span class="i" style="transform:scaleX(1.0850)">Edit</span></span><svg class="a red" style="left:1002px" viewBox="0 0 20 20" fill="currentColor"><path fill-rule="evenodd" clip-rule="evenodd" d="M8.75 1A2.75 2.75 0 0 0 6 3.75v.443c-.795.077-1.584.176-2.365.298a.75.75 0 1 0 .23 1.482l.149-.022.841 10.518A2.75 2.75 0 0 0 7.596 19h4.807a2.75 2.75 0 0 0 2.742-2.53l.841-10.52.149.023a.75.75 0 0 0 .23-1.482A41.03 41.03 0 0 0 14 4.193V3.75A2.75 2.75 0 0 0 11.25 1h-2.5ZM10 4c.84 0 1.673.025 2.5.075V3.75c0-.69-.56-1.25-1.25-1.25h-2.5c-.69 0-1.25.56-1.25 1.25v.325C8.327 4.025 9.16 4 10 4ZM8.58 7.72a.75.75 0 0 0-1.5.06l.3 7.5a.75.75 0 1 0 1.5-.06l-.3-7.5Zm4.34.06a.75.75 0 1 0-1.5-.06l-.3 7.5a.75.75 0 1 0 1.5.06l.3-7.5Z"/></svg></div><div class="row" style="top:356px"><div class="cb" style="top:33px"></div><span class="t" style="left:64px;font-size:14.77px;width:17.83px"><span class="i" style="transform:scaleX(1.1885)">11</span></span><span class="t" style="left:129px;font-size:14.77px;width:39.45px"><span class="i" style="transform:scaleX(1.0663)">user2</span></span><span class="t" style="left:248px;font-size:14.77px;width:39.45px"><span class="i" style="transform:scaleX(1.0663)">user2</span></span><span class="t" style="left:376px;font-size:14.77px;width:116.30px"><span class="i" style="transform:scaleX(1.0572)">user2@localhost</span></span><svg class="st no" style="left:521px" viewBox="0 0 24 24" fill="none" stroke="currentColor" stroke-width="1.5" stroke-linecap="round" stroke-linejoin="round"><path d="m9.75 9.75 4.5 4.5m0-4.5-4.5 4.5M21 12a9 9 0 1 1-18 0 9 9 0 0 1 18 0Z"/></svg><svg class="st ok" style="left:595px" viewBox="0 0 24 24" fill="none" stroke="currentColor" stroke-width="1.5" stroke-linecap="round" stroke-linejoin="round"><path d="M9 12.75 11.25 15 15 9.75M21 12a9 9 0 1 1-18 0 9 9 0 0 1 18 0Z"/></svg><span class="t d1" style="left:669px;font-size:14.77px;width:124.11px"><span class="i" style="transform:scaleX(1.0429)">61.4 KB / 10.0 GB</span></span><span class="t d2" style="left:669px;font-size:14.77px;width:60.33px"><span class="i" style="transform:scaleX(1.0584)">0% used</span></span><svg class="a lnk" style="left:817px" viewBox="0 0 24 24" fill="none" stroke="currentColor" stroke-width="1.5" stroke-linecap="round" stroke-linejoin="round"><path d="M15.75 9V5.25A2.25 2.25 0 0 0 13.5 3h-6a2.25 2.25 0 0 0-2.25 2.25v13.5A2.25 2.25 0 0 0 7.5 21h6a2.25 2.25 0 0 0 2.25-2.25V15m3 0 3-3m0 0-3-3m3 3H9"/></svg><span class="t lnk" style="left:837px;font-size:14.77px;width:94.45px"><span class="i" style="transform:scaleX(1.0379)">Login as User</span></span><svg class="a red" style="left:943.7px" viewBox="0 0 20 20" fill="currentColor"><path fill-rule="evenodd" clip-rule="evenodd" d="m5.433 13.917 1.262-3.155A4 4 0 0 1 7.58 9.42l6.92-6.918a2.121 2.121 0 0 1 3 3l-6.92 6.918c-.383.383-.84.685-1.343.886l-3.154 1.262a.5.5 0 0 1-.65-.65ZM3.5 5.75c0-.69.56-1.25 1.25-1.25H10A.75.75 0 0 0 10 3H4.75A2.75 2.75 0 0 0 2 5.75v9.5A2.75 2.75 0 0 0 4.75 18h9.5A2.75 2.75 0 0 0 17 15.25V10a.75.75 0 0 0-1.5 0v5.25c0 .69-.56 1.25-1.25 1.25h-9.5c-.69 0-1.25-.56-1.25-1.25v-9.5Z"/></svg><span class="t red" style="left:963px;font-size:14.77px;width:27.12px"><span class="i" style="transform:scaleX(1.0850)">Edit</span></span><svg class="a red" style="left:1002px" viewBox="0 0 20 20" fill="currentColor"><path fill-rule="evenodd" clip-rule="evenodd" d="M8.75 1A2.75 2.75 0 0 0 6 3.75v.443c-.795.077-1.584.176-2.365.298a.75.75 0 1 0 .23 1.482l.149-.022.841 10.518A2.75 2.75 0 0 0 7.596 19h4.807a2.75 2.75 0 0 0 2.742-2.53l.841-10.52.149.023a.75.75 0 0 0 .23-1.482A41.03 41.03 0 0 0 14 4.193V3.75A2.75 2.75 0 0 0 11.25 1h-2.5ZM10 4c.84 0 1.673.025 2.5.075V3.75c0-.69-.56-1.25-1.25-1.25h-2.5c-.69 0-1.25.56-1.25 1.25v.325C8.327 4.025 9.16 4 10 4ZM8.58 7.72a.75.75 0 0 0-1.5.06l.3 7.5a.75.75 0 1 0 1.5-.06l-.3-7.5Zm4.34.06a.75.75 0 1 0-1.5-.06l-.3 7.5a.75.75 0 1 0 1.5.06l.3-7.5Z"/></svg></div><div class="ft"><span class="t" style="font-size:14.77px;width:187.31px"><span class="i" style="transform:scaleX(1.0765)">Showing 1 to 4 of 4 results</span></span><div class="pp"><span class="t l" style="font-size:14.77px;width:61.73px"><span class="i" style="transform:scaleX(1.0289)">Per page</span></span><div class="sep"></div><span class="t v" style="font-size:14.77px;width:17.83px"><span class="i" style="transform:scaleX(1.1143)">10</span></span><svg viewBox="0 0 20 20" fill="none" stroke="currentColor" stroke-width="1.5" stroke-linecap="round" stroke-linejoin="round"><path d="M6 8l4 4 4-4"/></svg></div></div></div>
<div class="pf"><svg style="position:absolute;left:18.8px;top:23.7px;width:52.2px;height:32.7px" viewBox="0 0 1400 875" preserveAspectRatio="none"><path fill="#000" d="M140,285 L168,280 L194,290 L197,232 L208,230 L214,272 L232,262 L285,238 L328,212 L340,180 L382,157 L372,198 L392,206 L418,176 L466,154 L474,186 L462,226 L488,210 L552,212 L532,234 L600,252 L652,280 L672,306 L762,320 L832,345 L868,366 L888,340 L893,312 L870,282 L860,256 L878,238 L915,226 L962,250 L926,266 L894,276 L914,308 L919,345 L900,392 L911,432 L906,482 L892,520 L916,508 L936,546 L962,572 L976,630 L997,670 L986,706 L960,716 L947,690 L940,642 L914,600 L876,586 L868,566 L858,594 L848,612 L810,642 L775,682 L750,711 L718,713 L735,685 L770,650 L796,610 L790,575 L762,532 L750,550 L690,560 L630,556 L622,522 L604,505 L612,560 L616,610 L640,640 L670,660 L673,690 L656,713 L630,690 L585,650 L555,612 L540,572 L508,536 L500,572 L480,556 L420,592 L380,626 L320,682 L270,711 L230,716 L260,686 L310,650 L350,600 L370,550 L370,516 L345,492 L300,452 L286,412 L264,400 L240,386 L200,356 L160,342 L142,312 Z"/><path fill="#fff" d="M212,262 C212,312 230,346 258,351 L297,322 C266,318 242,300 234,262 Z M302,440 L350,468 L420,490 L472,540 L440,532 L380,502 L338,482 Z M284,408 L296,452 L300,408 Z M408,420 L420,476 L428,420 Z M582,442 L600,500 L622,522 L604,470 Z M742,462 L750,520 L762,532 L756,480 Z M290,255 L310,248 L312,262 L294,268 Z"/></svg><span class="t t1" style="font-size:15.75px;width:98.78px"><span class="i" style="transform:scaleX(1.0855);-webkit-text-stroke:0.21px currentColor">Jabali Panel</span></span><span class="t t2" style="font-size:12.66px;width:159.23px"><span class="i" style="transform:scaleX(1.0476)">Web Hosting Control Panel</span></span><svg class="gh" viewBox="0 0 16 16" fill="currentColor"><path d="M8 0C3.58 0 0 3.58 0 8c0 3.54 2.29 6.53 5.47 7.59.4.07.55-.17.55-.38 0-.19-.01-.82-.01-1.49-2.01.37-2.53-.49-2.69-.94-.09-.23-.48-.94-.82-1.13-.28-.15-.68-.52-.01-.53.63-.01 1.08.58 1.23.82.72 1.21 1.87.87 2.33.66.07-.52.28-.87.51-1.07-1.78-.2-3.64-.89-3.64-3.95 0-.87.31-1.59.82-2.15-.08-.2-.36-1.02.08-2.12 0 0 .67-.21 2.2.82.64-.18 1.32-.27 2-.27.68 0 1.36.09 2 .27 1.53-1.04 2.2-.82 2.2-.82.44 1.1.16 1.92.08 2.12.51.56.82 1.27.82 2.15 0 3.07-1.87 3.75-3.65 3.95.29.25.54.73.54 1.48 0 1.07-.01 1.93-.01 2.2 0 .21.15.46.55.38A8.013 8.013 0 0016 8c0-4.42-3.58-8-8-8z"/></svg><span class="t g1" style="font-size:13.00px;width:45.06px"><span class="i" style="transform:scaleX(1.1266)">GitHub</span></span><div class="dot"></div><span class="t g2" style="font-size:13.00px;width:89.59px"><span class="i" style="transform:scaleX(1.1199)">© 2026 Jabali</span></span><div class="ver"><span class="t" style="font-size:11.55px;width:58.48px"><span class="i" style="transform:scaleX(1.1697);-webkit-text-stroke:0.15px currentColor">v0.9-rc43</span></span></div></div>
</div>
</body>
</html>
